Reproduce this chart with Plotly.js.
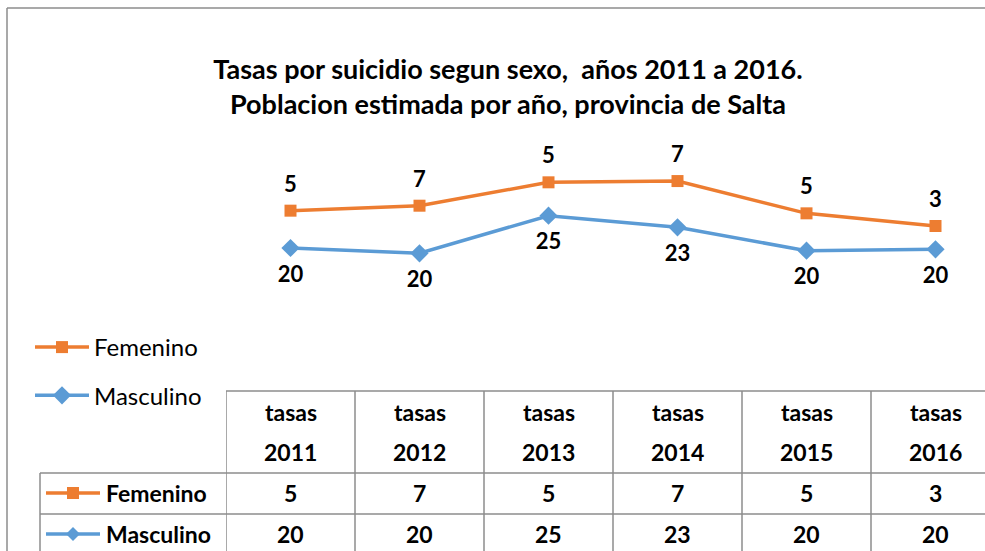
<!DOCTYPE html>
<html>
<head>
<meta charset="utf-8">
<script src="https://cdn.plot.ly/plotly-3.0.1.min.js"></script>
<style>
html,body{margin:0;padding:0;background:#fff;overflow:hidden;}
#chart{width:985px;height:551px;}
</style>
</head>
<body>
<div id="chart"></div>
<script>
// ---- data ----
const years = ['2011', '2012', '2013', '2014', '2015', '2016'];
const colHeader = ['tasas', 'tasas', 'tasas', 'tasas', 'tasas', 'tasas'];
const seriesNames = ['Femenino', 'Masculino'];
// rates (Excel stacked line: Femenino drawn on top of Masculino)
const femenino = [5.33, 6.80, 4.77, 6.61, 5.34, 3.33];
const masculino = [20.36, 19.6, 24.97, 23.31, 19.97, 20.17];

// ---- styling ----
const W = 985, H = 551;
const FONT = 'Lato, "Open Sans", sans-serif';
const ORANGE = '#ED7D31', BLUE = '#5B9BD5', GRID = '#8c8c8c';
const px = x => x / W;
const py = y => 1 - y / H;

const femStacked = femenino.map((v, i) => v + masculino[i]);
const fmt = v => String(Math.round(v));
const labelFont = {family: FONT, size: 22, color: '#000', weight: 'bold'};

const traces = [
  {
    type: 'scatter', mode: 'lines+markers', name: seriesNames[0],
    x: years, y: femStacked,
    line: {color: ORANGE, width: 3.5},
    marker: {symbol: 'square', size: 12, color: ORANGE},
    legendgroup: 'f', cliponaxis: false, hoverinfo: 'skip'
  },
  {
    type: 'scatter', mode: 'lines+markers', name: seriesNames[1],
    x: years, y: masculino,
    line: {color: BLUE, width: 3.5},
    marker: {symbol: 'diamond', size: 14, color: BLUE},
    legendgroup: 'm', cliponaxis: false, hoverinfo: 'skip'
  },
  // data labels
  {
    type: 'scatter', mode: 'markers+text', x: years, y: femStacked,
    text: femenino.map(fmt), textposition: 'top center', textfont: labelFont,
    marker: {size: 20, opacity: 0}, showlegend: false, cliponaxis: false, hoverinfo: 'skip'
  },
  {
    type: 'scatter', mode: 'markers+text', x: years, y: masculino,
    text: masculino.map(fmt), textposition: 'bottom center', textfont: labelFont,
    marker: {size: 26, opacity: 0}, showlegend: false, cliponaxis: false, hoverinfo: 'skip'
  }
];

// ---- data table (shapes + annotations) ----
const shapes = [];
const ann = [];
const lineStyle = {color: GRID, width: 1.5};
// outer chart border
shapes.push({type: 'line', xref: 'paper', yref: 'paper', x0: px(7), x1: px(7), y0: py(8), y1: py(H + 5), line: lineStyle});
shapes.push({type: 'line', xref: 'paper', yref: 'paper', x0: px(7), x1: px(W + 5), y0: py(8), y1: py(8), line: lineStyle});
// table horizontals
shapes.push({type: 'line', xref: 'x', yref: 'paper', x0: -0.5, x1: 6, y0: py(391), y1: py(391), line: lineStyle});
shapes.push({type: 'line', xref: 'paper', yref: 'paper', x0: px(40), x1: px(W + 5), y0: py(473), y1: py(473), line: lineStyle});
shapes.push({type: 'line', xref: 'paper', yref: 'paper', x0: px(40), x1: px(W + 5), y0: py(514), y1: py(514), line: lineStyle});
// table verticals
shapes.push({type: 'line', xref: 'paper', yref: 'paper', x0: px(40), x1: px(40), y0: py(473), y1: py(H + 5), line: lineStyle});
for (let i = 0; i <= years.length; i++) {
  shapes.push({type: 'line', xref: 'x', yref: 'paper', x0: i - 0.5, x1: i - 0.5, y0: py(391), y1: py(H + 5), line: lineStyle});
}
// column headers and values
const tfont = {family: FONT, size: 23, color: '#000', weight: 'bold'};
years.forEach((yr, i) => {
  ann.push({xref: 'x', yref: 'paper', x: i, y: py(412), text: colHeader[i], showarrow: false, font: tfont, yanchor: 'middle'});
  ann.push({xref: 'x', yref: 'paper', x: i, y: py(452), text: yr, showarrow: false, font: tfont, yanchor: 'middle'});
  ann.push({xref: 'x', yref: 'paper', x: i, y: py(493), text: fmt(femenino[i]), showarrow: false, font: tfont, yanchor: 'middle'});
  ann.push({xref: 'x', yref: 'paper', x: i, y: py(534), text: fmt(masculino[i]), showarrow: false, font: tfont, yanchor: 'middle'});
});
// row headers with legend keys
const rowY = [493, 534];
seriesNames.forEach((nm, r) => {
  ann.push({xref: 'paper', yref: 'paper', x: px(104), y: py(rowY[r]), text: nm, showarrow: false, font: tfont, xanchor: 'left', yanchor: 'middle'});
  const col = r === 0 ? ORANGE : BLUE;
  shapes.push({type: 'line', xref: 'paper', yref: 'paper', x0: px(46), x1: px(100), y0: py(rowY[r]), y1: py(rowY[r]), line: {color: col, width: 3.5}});
  if (r === 0) {
    shapes.push({type: 'rect', xref: 'paper', yref: 'paper', x0: px(67), x1: px(79), y0: py(rowY[r] - 6), y1: py(rowY[r] + 6), fillcolor: col, line: {width: 0}});
  } else {
    const cx = 73, cy = rowY[r], s = 7;
    const p = `M ${px(cx)} ${py(cy - s)} L ${px(cx + s)} ${py(cy)} L ${px(cx)} ${py(cy + s)} L ${px(cx - s)} ${py(cy)} Z`;
    shapes.push({type: 'path', xref: 'paper', yref: 'paper', path: p, fillcolor: col, line: {width: 0}});
  }
});

// y range: 7 px per unit
const k = 7;
const yTop = 19.6 + 253.3 / k;
const yBot = yTop - H / k;

const layout = {
  width: W, height: H,
  margin: {l: 0, r: 0, t: 0, b: 0, pad: 0},
  paper_bgcolor: '#fff', plot_bgcolor: 'rgba(0,0,0,0)',
  font: {family: FONT, color: '#000'},
  title: {
    text: 'Tasas por suicidio segun sexo,  años 2011 a 2016.<br>Poblacion estimada por año, provincia de Salta',
    font: {family: FONT, size: 27, color: '#000', weight: 'bold'},
    x: px(508), xanchor: 'center', y: py(79), yanchor: 'top'
  },
  xaxis: {
    type: 'category', domain: [px(226), 1], range: [-0.5, -0.5 + (W - 226) / 129],
    visible: false, fixedrange: true
  },
  yaxis: {range: [yBot, yTop], visible: false, fixedrange: true},
  showlegend: true,
  legend: {
    x: px(30), y: py(325), xanchor: 'left', yanchor: 'top',
    font: {family: FONT, size: 24, color: '#000'},
    bgcolor: 'rgba(0,0,0,0)', traceorder: 'grouped', tracegroupgap: 14,
    itemwidth: 54
  },
  shapes: shapes,
  annotations: ann
};

Plotly.newPlot('chart', traces, layout, {staticPlot: true, displayModeBar: false});
</script>
</body>
</html>
